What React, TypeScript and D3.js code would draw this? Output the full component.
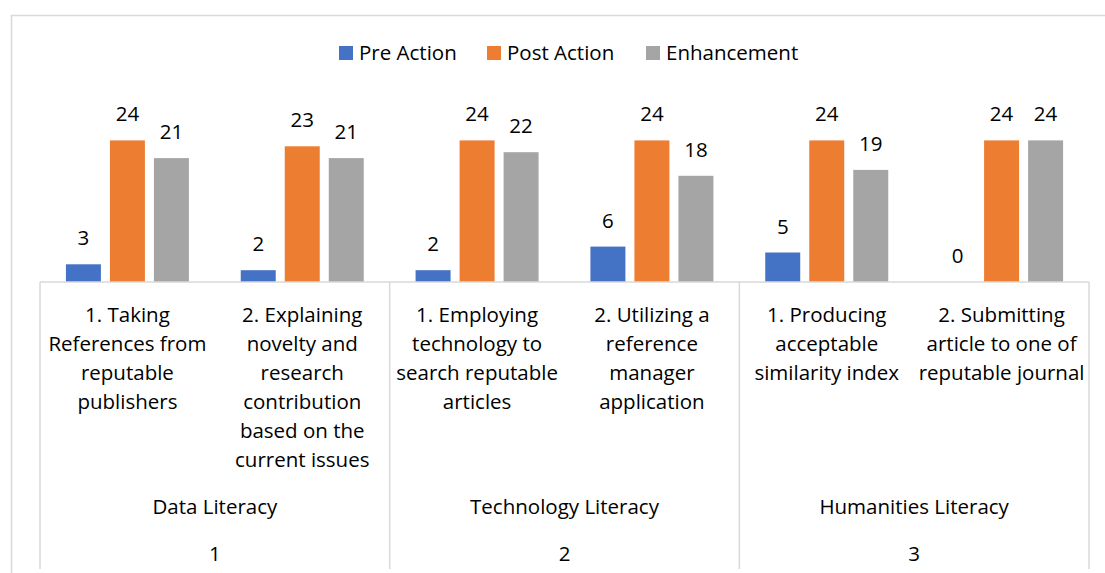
import { useEffect, useRef } from 'react';
import * as d3 from 'd3';

const WIDTH = 1105;
const HEIGHT = 573;
const FONT = '"Open Sans", sans-serif';
const FONT_SIZE = 20.5;
const LINE_GAP = 29;

// category labels, already split the way the chart wraps them
const categories: string[][] = [
  ['1. Taking', 'References from', 'reputable', 'publishers'],
  ['2. Explaining', 'novelty and', 'research', 'contribution', 'based on the', 'current issues'],
  ['1. Employing', 'technology to', 'search reputable', 'articles'],
  ['2. Utilizing a', 'reference', 'manager', 'application'],
  ['1. Producing', 'acceptable', 'similarity index'],
  ['2. Submitting', 'article to one of', 'reputable journal'],
];
const groupNames = ['Data Literacy', 'Technology Literacy', 'Humanities Literacy'];
const groupIds = ['1', '2', '3'];
const catsPerGroup = 2;

const seriesNames = ['Pre Action', 'Post Action', 'Enhancement'];
const seriesColors = ['#4472C4', '#ED7D31', '#A5A5A5'];
const preAction = [3, 2, 2, 6, 5, 0];
const postAction = [24, 23, 24, 24, 24, 24];
const enhancement = [21, 21, 22, 18, 19, 24];

function drawChart(svgEl: SVGSVGElement) {
  const svg = d3.select(svgEl);
  svg.selectAll('*').remove();

  const baseY = 282;
  const axisLeft = 40;
  const axisRight = 1089;
  const gridColor = '#D9D9D9';

  // chart frame (runs off the right and bottom edges of the picture)
  svg.append('rect')
    .attr('x', 11.5).attr('y', 15.5)
    .attr('width', 1110).attr('height', 570)
    .attr('fill', '#fff')
    .attr('stroke', gridColor)
    .attr('stroke-width', 1.5);

  const x0 = d3.scaleBand<number>()
    .domain(d3.range(categories.length))
    .range([axisLeft, axisRight]);
  const bw = x0.bandwidth();
  const clusterW = 123;
  const x1 = d3.scaleBand<number>()
    .domain(d3.range(seriesNames.length))
    .range([(bw - clusterW) / 2, (bw + clusterW) / 2])
    .paddingInner(0.205);
  const y = d3.scaleLinear().domain([0, 30]).range([baseY, baseY - 30 * 5.9]);

  const values = [preAction, postAction, enhancement];

  const bars = svg.append('g');
  values.forEach((vals, s) => {
    vals.forEach((v, i) => {
      const bx = x0(i)! + x1(s)!;
      if (v > 0) {
        bars.append('rect')
          .attr('x', bx)
          .attr('y', y(v))
          .attr('width', x1.bandwidth())
          .attr('height', baseY - y(v))
          .attr('fill', seriesColors[s]);
      }
      bars.append('text')
        .attr('x', bx + x1.bandwidth() / 2)
        .attr('y', y(v) - 19)
        .attr('text-anchor', 'middle')
        .attr('font-family', FONT)
        .attr('font-size', FONT_SIZE)
        .attr('fill', '#000')
        .text(v);
    });
  });

  // axis: baseline + group separators
  const axis = svg.append('g').attr('stroke', gridColor).attr('stroke-width', 1.5);
  axis.append('line')
    .attr('x1', axisLeft).attr('x2', axisRight)
    .attr('y1', baseY).attr('y2', baseY);
  for (let g = 0; g <= groupNames.length; g++) {
    const xx = g < groupNames.length ? x0(g * catsPerGroup)! : axisRight;
    axis.append('line')
      .attr('x1', xx).attr('x2', xx)
      .attr('y1', baseY).attr('y2', 569);
  }

  const labels = svg.append('g')
    .attr('font-family', FONT)
    .attr('font-size', FONT_SIZE)
    .attr('fill', '#000')
    .attr('text-anchor', 'middle');

  categories.forEach((lines, i) => {
    const t = labels.append('text').attr('x', x0(i)! + bw / 2).attr('y', 322);
    lines.forEach((ln, k) => {
      t.append('tspan')
        .attr('x', x0(i)! + bw / 2)
        .attr('y', 322 + k * LINE_GAP)
        .text(ln);
    });
  });

  groupNames.forEach((name, g) => {
    const cx = x0(g * catsPerGroup)! + bw;
    labels.append('text').attr('x', cx).attr('y', 514).text(name);
    labels.append('text').attr('x', cx).attr('y', 561).text(groupIds[g]);
  });

  // legend
  const legendX = [339, 487, 646];
  const legend = svg.append('g')
    .attr('font-family', FONT)
    .attr('font-size', FONT_SIZE)
    .attr('fill', '#000');
  seriesNames.forEach((name, s) => {
    legend.append('rect')
      .attr('x', legendX[s]).attr('y', 46)
      .attr('width', 14).attr('height', 14)
      .attr('fill', seriesColors[s]);
    legend.append('text')
      .attr('x', legendX[s] + 20)
      .attr('y', 60)
      .text(name);
  });
}

export default function App() {
  const svgRef = useRef<SVGSVGElement>(null);

  useEffect(() => {
    if (!svgRef.current) return;
    drawChart(svgRef.current);
  }, []);

  return (
    <svg
      ref={svgRef}
      width={WIDTH}
      height={HEIGHT}
      style={{ position: 'absolute', left: 0, top: 0, display: 'block', background: '#fff' }}
    />
  );
}
